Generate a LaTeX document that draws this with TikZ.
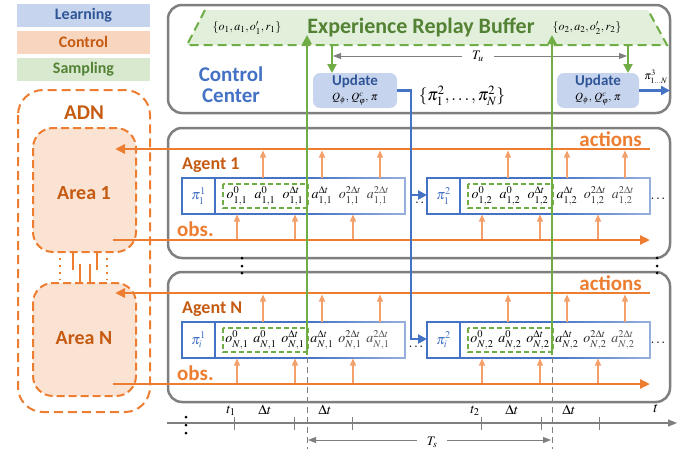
\documentclass[tikz,border=0pt]{standalone}
\usepackage{mathptmx}
\usepackage{fontspec}
\setmainfont{Liberation Serif}
\newfontfamily\cb{Carlito}
\usetikzlibrary{arrows.meta,fadings}
\definecolor{cOr}{HTML}{ED7D31}
\definecolor{cOrD}{HTML}{C55A11}
\definecolor{cOrL}{HTML}{F4A06A}
\definecolor{cBl}{HTML}{4472C4}
\definecolor{cBlD}{HTML}{2F5597}
\definecolor{cGr}{HTML}{70AD47}
\definecolor{cGrD}{HTML}{548235}
\definecolor{cGy}{HTML}{7F7F7F}
\definecolor{fBl}{HTML}{C7D4EE}
\definecolor{fOr}{HTML}{F8D5BF}
\definecolor{fOrL}{HTML}{FBE3D3}
\definecolor{fGr}{HTML}{D8E9CF}
\definecolor{fGrL}{HTML}{E2EFDA}
\tikzfading[name=recfade, left color=transparent!100, right color=transparent!55]
\newcommand\fsz[1]{\fontsize{#1}{#1}\selectfont}
\newcommand\myrec[3]{%
  \draw[recline] (182,178) rectangle (405,214);
  \draw[recline] (215,178) -- (215,214);
  \draw[cGr, line width=1.2pt, dash pattern=on 5pt off 3pt] (223,184) rectangle (308,208);
  \node[ent, text=cBl] at (198.5,196) {$\pi_{#1}^{#2}$};
  \node[ent] at (237,196) {$o^{0}_{#3}$};
  \node[ent] at (265,196) {$a^{0}_{#3}$};
  \node[ent] at (293,196) {$o^{\Delta t}_{#3}$};
  \node[ent] at (322,196) {$a^{\Delta t}_{#3}$};
  \node[ent] at (350,196) {$o^{2\Delta t}_{#3}$};
  \node[ent] at (378,196) {$a^{2\Delta t}_{#3}$};
  \fill[white, path fading=recfade] (305,176) rectangle (407,216);
}
\newcommand\myagent[3]{%
  \draw[gbox] (168,128) rectangle (670,258);
  \draw[oarr] (650,149) -- (115,149);
  \draw[oarr] (113,240) -- (650,240);
  \node[lab, text=cOr, font=\cb\bfseries\fsz{21}, anchor=east] at (642,139) {actions};
  \node[lab, text=cOrD, font=\cb\bfseries\fsz{18}, anchor=west] at (182,165) {#1};
  \node[lab, text=cOr, font=\cb\bfseries\fsz{21}, anchor=west] at (177,229) {obs.};
  \myrec{#2}{1}{#3,1}
  \begin{scope}[shift={(245,0)}]
    \myrec{#2}{2}{#3,2}
  \end{scope}
  \foreach \x in {263,322,380,508,567,625} \draw[uparr] (\x,178) -- (\x,150.5);
  \foreach \x in {237,295,353,482,540,598} \draw[uparr] (\x,239) -- (\x,214.5);
  \node[ent] at (658,199) {$\ldots$};
}
\begin{document}
\begin{tikzpicture}[x=1pt,y=-1pt,
  lab/.style={inner sep=0pt},
  legend/.style={minimum width=133pt, minimum height=23pt, inner sep=0pt, font=\cb\bfseries\fsz{16}},
  gbox/.style={draw=cGy, line width=2.5pt, rounded corners=14pt},
  oarr/.style={cOr, line width=2.5pt, -{Triangle[length=10pt,width=9pt]}},
  uparr/.style={cOrL, line width=1.2pt, -{Triangle[length=7pt,width=6pt]}},
  bline/.style={cBl, line width=2.5pt},
  barr/.style={bline, -{Triangle[length=9pt,width=9pt]}},
  garr/.style={cGr, line width=2.5pt, -{Triangle[length=9pt,width=9pt]}},
  gyarr/.style={cGy, line width=1pt, {Triangle[length=8pt,width=6pt]}-{Triangle[length=8pt,width=6pt]}},
  recline/.style={cBl, line width=1.5pt},
  ent/.style={inner sep=0pt, font=\fsz{14}},
  areabox/.style={fill=fOrL, draw=cOr, line width=2pt, dash pattern=on 8pt off 4pt, rounded corners=20pt},
  upd/.style={fill=fBl, rounded corners=7pt, minimum height=35pt, inner sep=0pt, align=center},
  dot/.style={circle, fill=black, inner sep=0pt, minimum size=3pt}
]
\useasboundingbox (0,0) rectangle (689,450);
% legend
\node[legend, fill=fBl, text=cBlD] (lL) at (83.5,15.5) {Learning};
\node[legend, fill=fOr, text=cOrD] (lC) at (83.5,42) {Control};
\node[legend, fill=fGr, text=cGrD] (lS) at (83.5,69.5) {Sampling};
% ADN
\draw[cOr, line width=2pt, dash pattern=on 9pt off 5pt, rounded corners=25pt] (18,90) rectangle (150,412);
\node[lab, text=cOrD, font=\cb\bfseries\fsz{21}] (adn) at (84,113) {ADN};
\draw[areabox] (33,128) rectangle (136,252);
\draw[areabox] (33,283) rectangle (136,396);
\node[lab, text=cOrD, font=\cb\bfseries\fsz{20}] (a1) at (84,193) {Area 1};
\node[lab, text=cOrD, font=\cb\bfseries\fsz{20}] (aN) at (84,338) {Area N};
\draw[cOr, line width=2pt] (73,252) -- (73,270) (97,252) -- (97,270) (80,264) -- (80,283) (90,264) -- (90,283);
\draw[cOr, line width=2pt, dash pattern=on 2pt off 5pt] (60,258) -- (60,280) (107,258) -- (107,280);
% control center
\draw[gbox] (168,5) rectangle (670,113);
\fill[fGrL] (205,10) -- (648,10) -- (667,45) -- (187,45) -- cycle;
\draw[cGr, line width=2pt, dash pattern=on 9pt off 5pt] (205,10) -- (187,45) -- (667,45) -- (648,10);
\node[lab, font=\fsz{12}] (b1) at (247,28) {$\{o_1,a_1,o_1',r_1\}$};
\node[lab, font=\fsz{12}] (b2) at (587,28) {$\{o_2,a_2,o_2',r_2\}$};
\node[lab, text=cGrD, font=\cb\bfseries\fsz{22}] (erb) at (421,27) {Experience Replay Buffer};
\node[lab, text=cBl, font=\cb\bfseries\fsz{21}, align=center] (cc) at (231,85) {\fontsize{21}{24}\selectfont Control\\Center};
\node[upd, minimum width=84pt] (u1) at (355,90.5) {{\cb\bfseries\fsz{15}\color{cBlD}Update}\\[3pt]{\fsz{11}$Q_{\phi},\,Q^{c}_{\varphi},\,\pi$}};
\node[upd, minimum width=82pt] (u2) at (598,90.5) {{\cb\bfseries\fsz{15}\color{cBlD}Update}\\[3pt]{\fsz{11}$Q_{\phi},\,Q^{c}_{\varphi},\,\pi$}};
\node[lab, font=\fsz{17}] (pis) at (462,96) {$\{\pi_1^2,\ldots,\pi_N^2\}$};
\draw[garr] (332,45) -- (332,73);
\draw[garr] (628,45) -- (628,73);
\draw[gyarr] (333,56) -- (627,56);
\node[fill=white, inner xsep=10pt, inner ysep=1pt, font=\fsz{13}] (tu) at (478,56) {$T_u$};
\draw[barr] (u2.east) -- (670,90.5);
\node[lab, font=\fsz{11}] (pi3) at (656,77) {$\pi^{3}_{1\ldots N}$};
% agents
\myagent{Agent 1}{1}{1}
\begin{scope}[shift={(0,144)}]
  \myagent{Agent N}{i}{N}
\end{scope}
\node[ent] (d1) at (417,203) {$\ldots$};
\node[ent] (d2) at (416,347) {$\ldots$};
% blue policy distribution
\draw[bline] (u1.east) -- (411,90.5) -- (411,339);
\draw[barr] (410,339) -- (427,339);
\draw[barr] (411,195) -- (427,195);
% green sampling lines
\draw[garr] (307,355) -- (307,35);
\draw[garr] (552,355) -- (552,35);
\draw[cGy, line width=1pt, dash pattern=on 6pt off 4pt] (307,357) -- (307,449);
\draw[cGy, line width=1pt, dash pattern=on 6pt off 4pt] (552,357) -- (552,449);
% vertical dots
\foreach \x/\y in {242/258,242/266,242/273,657/258,657/266,657/273,186/417,186/425,186/433}
  \node[dot] at (\x,\y) {};
% time axis
\draw[cGy, line width=1.2pt, -{Triangle[length=9pt,width=7pt]}] (167,423) -- (677,423);
\foreach \x in {234,294,352,481,541,599} \draw[cGy, line width=1pt] (\x,417) -- (\x,430);
\node[ent] (t1) at (231,411) {$t_1$};
\node[ent] (dt1) at (265,410) {$\Delta t$};
\node[ent] (dt2) at (325,410) {$\Delta t$};
\node[ent] (t2) at (475,411) {$t_2$};
\node[ent] (dt3) at (512,410) {$\Delta t$};
\node[ent] (dt4) at (569,410) {$\Delta t$};
\node[ent, font=\fsz{15}] (tt) at (656,409) {$t$};
\draw[gyarr] (308,440) -- (551,440);
\node[fill=white, inner xsep=10pt, inner ysep=1pt, font=\fsz{13}] (ts) at (432,442) {$T_s$};
\end{tikzpicture}
\end{document}
